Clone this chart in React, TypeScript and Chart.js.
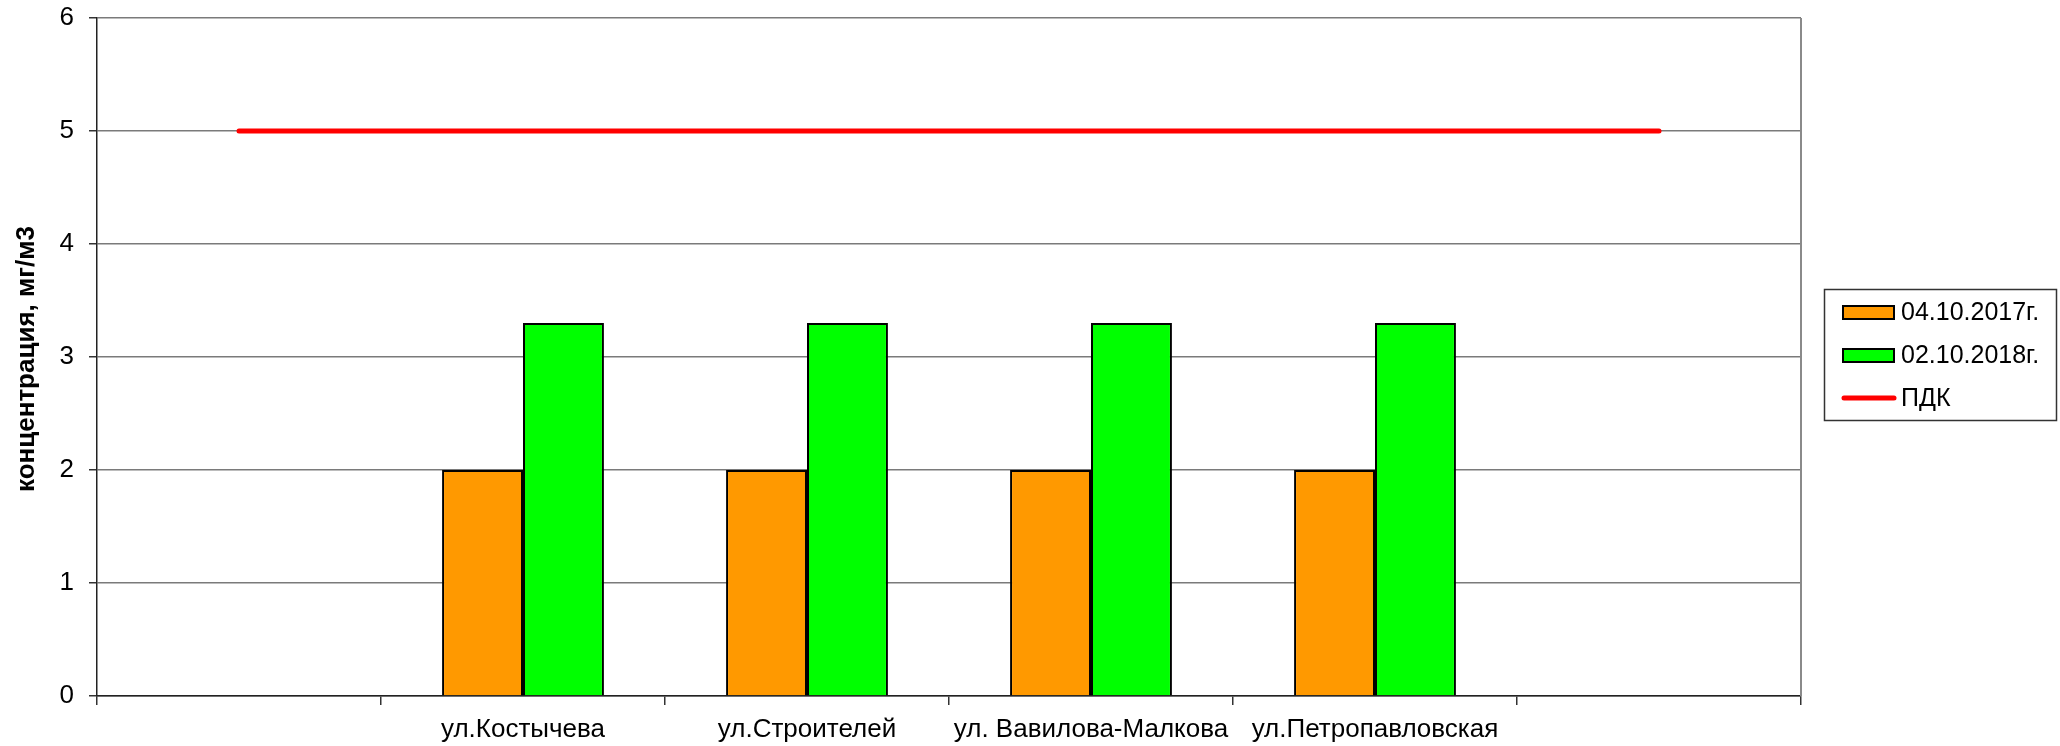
import React, { useEffect, useRef } from "react";
import { Chart, registerables } from "chart.js";

Chart.register(...registerables);

// ---- data ----
const categories = ["", "ул.Костычева", "ул.Строителей", "ул. Вавилова-Малкова", "ул.Петропавловская", ""];
const series2017: (number | null)[] = [null, 2, 2, 2, 2, null];
const series2018: (number | null)[] = [null, 3.3, 3.3, 3.3, 3.3, null];
const pdkValues = [5, 5, 5, 5, 5, 5];
const seriesLabels = ["04.10.2017г.", "02.10.2018г.", "ПДК"];
const yAxisTitle = "концентрация, мг/м3";
const yMin = 0;
const yMax = 6;
const yStep = 1;

const FONT = "'Liberation Sans', Arial, sans-serif";

const frameAndTitlePlugin = {
  id: "frameAndTitle",
  beforeDatasetsDraw(chart: any) {
    const { ctx, chartArea } = chart;
    ctx.save();
    ctx.strokeStyle = "#8a8a8a";
    ctx.lineWidth = 2;
    ctx.beginPath();
    ctx.moveTo(Math.round(chartArea.right), chartArea.top);
    ctx.lineTo(Math.round(chartArea.right), chartArea.bottom);
    ctx.stroke();
    ctx.restore();
  },
  afterDraw(chart: any) {
    const { ctx, chartArea } = chart;
    ctx.save();
    ctx.translate(27, (chartArea.top + chartArea.bottom) / 2 + 2);
    ctx.rotate(-Math.PI / 2);
    ctx.font = `bold 26px ${FONT}`;
    ctx.fillStyle = "#000";
    ctx.textAlign = "center";
    ctx.textBaseline = "middle";
    ctx.fillText(yAxisTitle, 0, 0);
    ctx.restore();
  },
};

const boxLegendPlugin = {
  id: "boxLegend",
  afterDraw(chart: any) {
    const { ctx } = chart;
    const bx = 1824.5, by = 289.5, bw = 232, bh = 131;
    ctx.save();
    ctx.fillStyle = "#fff";
    ctx.fillRect(bx, by, bw, bh);
    ctx.strokeStyle = "#333";
    ctx.lineWidth = 1.5;
    ctx.strokeRect(bx, by, bw, bh);
    const rows = [312.5, 355.5, 398];
    chart.data.datasets.forEach((ds: any, i: number) => {
      const cy = rows[i];
      if (ds.type === "line") {
        ctx.strokeStyle = ds.borderColor;
        ctx.lineWidth = 5;
        ctx.lineCap = "round";
        ctx.beginPath();
        ctx.moveTo(1844, cy);
        ctx.lineTo(1894, cy);
        ctx.stroke();
      } else {
        ctx.fillStyle = ds.backgroundColor;
        ctx.fillRect(1843, cy - 6.5, 51, 13);
        ctx.strokeStyle = "#000";
        ctx.lineWidth = 2;
        ctx.strokeRect(1843, cy - 6.5, 51, 13);
      }
      ctx.fillStyle = "#000";
      ctx.font = `25px ${FONT}`;
      ctx.textAlign = "left";
      ctx.textBaseline = "middle";
      ctx.fillText(ds.label, 1901, cy + 1);
    });
    ctx.restore();
  },
};

export default function App() {
  const ref = useRef<HTMLCanvasElement | null>(null);

  useEffect(() => {
    document.body.style.margin = "0";
    const canvas = ref.current;
    if (!canvas) return;
    const chart = new Chart(canvas, {
      type: "bar",
      data: {
        labels: categories,
        datasets: [
          {
            type: "bar",
            label: seriesLabels[0],
            data: series2017,
            backgroundColor: "#FF9900",
            borderColor: "#000",
            borderWidth: 2,
            categoryPercentage: 0.57,
            barPercentage: 1.0,
          } as any,
          {
            type: "bar",
            label: seriesLabels[1],
            data: series2018,
            backgroundColor: "#00FF00",
            borderColor: "#000",
            borderWidth: 2,
            categoryPercentage: 0.57,
            barPercentage: 1.0,
          } as any,
          {
            type: "line",
            label: seriesLabels[2],
            data: pdkValues,
            borderColor: "#FF0000",
            backgroundColor: "#FF0000",
            borderWidth: 5,
            borderCapStyle: "round",
            pointRadius: 0,
            tension: 0,
            fill: false,
          } as any,
        ],
      },
      options: {
        responsive: false,
        animation: false,
        layout: { padding: { top: 18, right: 259, left: 0, bottom: 0 } },
        plugins: {
          legend: { display: false },
          tooltip: { enabled: false },
        },
        scales: {
          x: {
            type: "category",
            offset: true,
            grid: {
              offset: true,
              drawOnChartArea: false,
              drawTicks: true,
              tickLength: 9,
              tickColor: "#333",
              lineWidth: 1.5,
            },
            border: { color: "#222", width: 1.5 },
            ticks: {
              autoSkip: false,
              maxRotation: 0,
              minRotation: 0,
              padding: 9,
              color: "#000",
              font: { family: FONT, size: 26 },
            },
            afterFit(scale: any) {
              scale.height = 50;
              scale.paddingLeft = 0;
              scale.paddingRight = 0;
            },
          },
          y: {
            min: yMin,
            max: yMax,
            grid: {
              color: "#7a7a7a",
              lineWidth: 1.5,
              drawTicks: true,
              tickLength: 8,
              tickColor: "#333",
            },
            border: { color: "#222", width: 1.5 },
            ticks: {
              stepSize: yStep,
              padding: 15,
              color: "#000",
              font: { family: FONT, size: 26 },
            },
            afterFit(scale: any) {
              scale.width = 97;
              scale.paddingTop = 0;
              scale.paddingBottom = 0;
            },
          },
        },
      },
      plugins: [frameAndTitlePlugin, boxLegendPlugin],
    });
    return () => chart.destroy();
  }, []);

  return (
    <div style={{ width: 2060, height: 746, position: "relative", background: "#fff" }}>
      <canvas ref={ref} width={2060} height={746} style={{ display: "block" }} />
    </div>
  );
}
